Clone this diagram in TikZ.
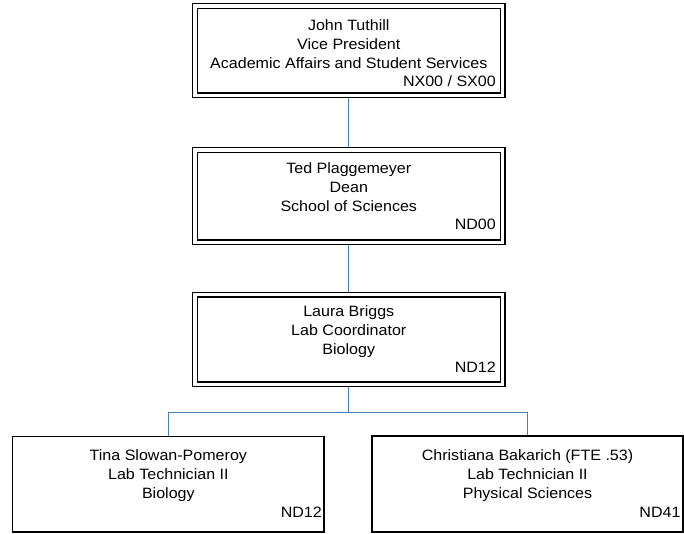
\documentclass[tikz,border=0pt]{standalone}
\usepackage{fontspec}
\setmainfont[FakeStretch=1.07]{Liberation Sans}
\definecolor{linkblue}{HTML}{4A7EBB}
\begin{document}
\begin{tikzpicture}[x=1pt,y=-1pt,
  every node/.style={font=\fontsize{15}{19}\selectfont},
  dbox/.style={draw,double,double distance=3.2pt,line width=1.4pt,outer sep=3pt,minimum width=307.5pt},
  sbox/.style={draw,line width=1.4pt,outer sep=0.7pt},
  lines/.style={anchor=north,inner sep=0pt,align=center},
  code/.style={anchor=base east,inner sep=0pt},
  link/.style={draw=linkblue,line width=1.4pt}]
\useasboundingbox (0,0) rectangle (684,534);
% boxes
\node[dbox,minimum height=89.5pt] (Vice_President) at (348.75,50.75) {};
\node[dbox,minimum height=92.5pt] (Dean) at (348.75,196.25) {};
\node[dbox,minimum height=89.4pt] (Lab_Coordinator) at (348.75,339.5) {};
\node[sbox,minimum width=311.3pt,minimum height=95.7pt] (Lab_Technician_Biology) at (168.35,484.15) {};
\node[sbox,minimum width=311pt,minimum height=96pt] (Lab_Technician_Physical) at (527.5,484) {};
% texts
\node[lines] (Vice_President_text) at (348.75,19.1) {John Tuthill\\Vice President\\Academic Affairs and Student Services};
\node[code] (Vice_President_code) at (496,86.7) {NX00 / SX00};
\node[lines] (Dean_text) at (348.75,162.1) {Ted Plaggemeyer\\Dean\\School of Sciences};
\node[code] (Dean_code) at (496,230) {ND00};
\node[lines] (Lab_Coordinator_text) at (348.75,305.8) {Laura Briggs\\Lab Coordinator\\Biology};
\node[code] (Lab_Coordinator_code) at (496,372.7) {ND12};
\node[lines] (Lab_Technician_Biology_text) at (168.35,449.1) {Tina Slowan-Pomeroy\\Lab Technician II\\Biology};
\node[code] (Lab_Technician_Biology_code) at (322,517) {ND12};
\node[lines] (Lab_Technician_Physical_text) at (527.5,449.1) {Christiana Bakarich (FTE .53)\\Lab Technician II\\Physical Sciences};
\node[code] (Lab_Technician_Physical_code) at (680.7,517) {ND41};
% connectors
\coordinate (Branch) at (348.75,412.5);
\draw[link] (Vice_President.south) -- (Dean.north);
\draw[link] (Dean.south) -- (Lab_Coordinator.north);
\draw[link] (Lab_Coordinator.south) -- (Branch);
\draw[link] (Branch) -| (Lab_Technician_Biology.north);
\draw[link] (Branch) -| (Lab_Technician_Physical.north);
\end{tikzpicture}
\end{document}
